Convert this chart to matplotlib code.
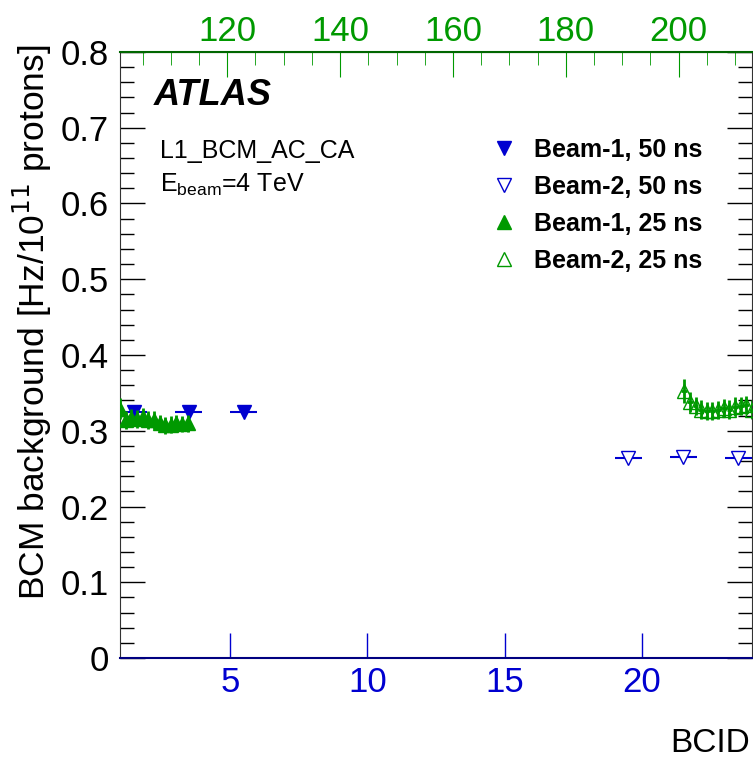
import matplotlib
matplotlib.use("Agg")
import matplotlib.pyplot as plt
from matplotlib.lines import Line2D
from matplotlib.ticker import MultipleLocator, FuncFormatter

plt.rcParams['font.family'] = ['Liberation Sans', 'DejaVu Sans']

# 50 ns fill (bottom axis, BCID)
b1_50_x = [1.5, 3.5, 5.5]
b1_50_y = [0.325, 0.325, 0.325]
b2_50_x = [19.5, 21.5, 23.5]
b2_50_y = [0.264, 0.265, 0.264]

# 25 ns fill (top axis, BCID)
b1_25_x = [101, 102, 103, 104, 105, 106, 107, 108, 109, 110, 111, 112, 113]
b1_25_y = [0.329, 0.314, 0.317, 0.315, 0.318, 0.314, 0.314, 0.310, 0.307,
           0.308, 0.310, 0.309, 0.310]
b1_25_err = [0.014, 0.012, 0.012, 0.012, 0.012, 0.012, 0.012, 0.011, 0.011,
             0.011, 0.011, 0.011, 0.011]
b2_25_x = [201, 202, 203, 204, 205, 206, 207, 208, 209, 210, 211, 212, 213]
b2_25_y = [0.352, 0.338, 0.333, 0.328, 0.326, 0.326, 0.327, 0.330, 0.328,
           0.332, 0.333, 0.334, 0.328]
b2_25_err = [0.016, 0.013, 0.012, 0.012, 0.012, 0.012, 0.012, 0.012, 0.012,
             0.012, 0.012, 0.012, 0.012]

blue = '#0000d0'
green = '#009900'

fig = plt.figure(figsize=(7.53, 7.6), dpi=100)
ax = fig.add_axes([120 / 753, 102 / 760, 632 / 753, 606 / 760])

ax.errorbar(b1_50_x, b1_50_y, xerr=0.5, fmt='v', color=blue, ms=10,
            elinewidth=1.5, capsize=0)
ax.errorbar(b2_50_x, b2_50_y, xerr=0.5, fmt='v', color=blue, mfc='white',
            ms=10, elinewidth=1.5, capsize=0)

ax.set_xlim(1, 24)
ax.set_ylim(0, 0.8)

ax.yaxis.set_major_locator(MultipleLocator(0.1))
ax.yaxis.set_minor_locator(MultipleLocator(0.02))
ax.yaxis.set_major_formatter(FuncFormatter(lambda v, p: '0' if abs(v) < 1e-9 else '%.1f' % v))
ax.xaxis.set_major_locator(MultipleLocator(5))

ax.tick_params(axis='y', which='both', direction='in', left=True, right=True,
               labelsize=25, pad=8)
ax.tick_params(axis='y', which='major', length=18, width=1)
ax.tick_params(axis='y', which='minor', length=10, width=1)
ax.tick_params(axis='x', which='major', direction='in', length=18, width=1,
               colors=blue, labelsize=25, pad=6, top=False)

ax.spines['bottom'].set_color('#000080')
ax.spines['bottom'].set_linewidth(1.5)
ax.spines['left'].set_color('#333333')
ax.spines['right'].set_color('#333333')

axt = ax.twiny()
axt.set_xlim(101, 213)
axt.errorbar(b1_25_x, b1_25_y, xerr=0.5, yerr=b1_25_err, fmt='^', color=green,
             ms=10, elinewidth=2, capsize=0)
axt.errorbar(b2_25_x, b2_25_y, xerr=0.5, yerr=b2_25_err, fmt='^', color=green,
             mfc='none', ms=10, elinewidth=2, capsize=0)
axt.xaxis.set_major_locator(MultipleLocator(20))
axt.xaxis.set_minor_locator(MultipleLocator(5))
axt.tick_params(axis='x', which='both', direction='in', colors=green)
axt.tick_params(axis='x', which='major', length=18, labelsize=25, pad=3)
axt.tick_params(axis='x', which='minor', length=9)
axt.spines['top'].set_color('#006600')
axt.spines['top'].set_linewidth(1.5)
for s in ['bottom', 'left', 'right']:
    axt.spines[s].set_visible(False)

ax.set_ylabel('BCM background [Hz/10$^{11}$ protons]', fontsize=25.5, loc='top')
ax.yaxis.set_label_coords(-0.104, 1.012)
fig.text(750 / 753, 17 / 760, 'BCID', ha='right', va='center', fontsize=24)

axt.text(0.053, 0.912, 'ATLAS', transform=ax.transAxes, fontsize=26,
         fontweight='bold', style='italic')
axt.text(0.063, 0.825, 'L1_BCM_AC_CA', transform=ax.transAxes, fontsize=18)
axt.text(0.063, 0.77, 'E$_{\\mathregular{beam}}$=4 TeV', transform=ax.transAxes,
         fontsize=18)

handles = [
    Line2D([], [], ls='none', marker='v', color=blue, ms=10),
    Line2D([], [], ls='none', marker='v', color=blue, mfc='white', ms=10),
    Line2D([], [], ls='none', marker='^', color=green, ms=10),
    Line2D([], [], ls='none', marker='^', color=green, mfc='white', ms=10),
]
labels = ['Beam-1, 50 ns', 'Beam-2, 50 ns', 'Beam-1, 25 ns', 'Beam-2, 25 ns']
axt.legend(handles, labels, loc='upper left', bbox_to_anchor=(0.553, 0.895),
           bbox_transform=ax.transAxes, frameon=False, handlelength=1.0,
           handletextpad=0.7, labelspacing=0.52,
           prop={'weight': 'bold', 'size': 18})

fig.savefig('out.png', dpi=100)
